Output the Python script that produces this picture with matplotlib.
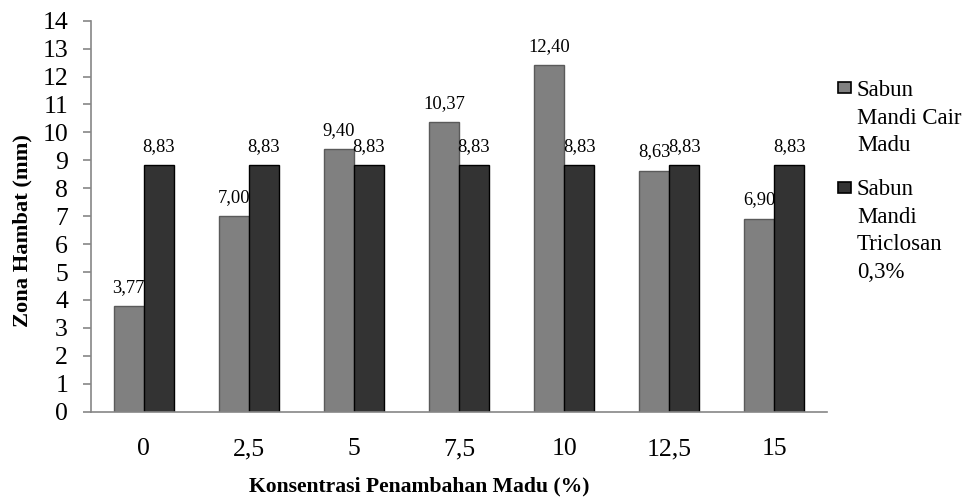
import numpy as np
import matplotlib
matplotlib.use('Agg')
import matplotlib.pyplot as plt
from matplotlib.patches import Rectangle

plt.rcParams['font.family'] = ['Liberation Serif', 'DejaVu Serif']

categories = ['0', '2,5', '5', '7,5', '10', '12,5', '15']
madu = [3.77, 7.00, 9.40, 10.37, 12.40, 8.63, 6.90]
triclosan = [8.83, 8.83, 8.83, 8.83, 8.83, 8.83, 8.83]
series_names = ['Sabun\nMandi Cair\nMadu', 'Sabun\nMandi\nTriclosan\n0,3%']
series_colors = ['#808080', '#333333']
edge_colors = ['#5a5a5a', '#000000']

W, H = 973, 499
fig = plt.figure(figsize=(W / 100, H / 100), dpi=100)
ax = fig.add_axes([91 / W, 1 - 411.7 / H, (827 - 91) / W, (411.7 - 20.7) / H])

x = np.arange(len(categories))
w = 0.285
b1 = ax.bar(x - w / 2, madu, w, color=series_colors[0], edgecolor=edge_colors[0], linewidth=1)
b2 = ax.bar(x + w / 2, triclosan, w, color=series_colors[1], edgecolor=edge_colors[1], linewidth=1)

fmt = lambda v: f'{v:.2f}'.replace('.', ',')
ax.bar_label(b1, labels=[fmt(v) for v in madu], padding=7.5, fontsize=13.3)
ax.bar_label(b2, labels=[fmt(v) for v in triclosan], padding=7.5, fontsize=13.3)

ax.set_xlim(-0.5, len(categories) - 0.5)
ax.set_ylim(0, 14)
ax.set_yticks(range(0, 15))
ax.set_xticks(x)
ax.set_xticklabels(categories)
for s in ['top', 'right']:
    ax.spines[s].set_visible(False)
for s in ['left', 'bottom']:
    ax.spines[s].set_color('#868686')
    ax.spines[s].set_linewidth(1.2)
ax.tick_params(axis='y', length=6, width=1.2, color='#868686', pad=10.5, labelsize=18.5)
ax.tick_params(axis='x', length=0, pad=19, labelsize=18.5)

fig.text(22 / W, 1 - 231 / H, 'Zona Hambat (mm)', rotation=90, ha='center', va='center',
         fontsize=16.2, fontweight='bold')
fig.text(419 / W, 1 - 486 / H, 'Konsentrasi Penambahan Madu (%)', ha='center', va='center',
         fontsize=15.6, fontweight='bold')

# legend drawn by hand so the marker sits on the first line of each label
top_y = [96, 195]
marker_top = [81.7, 181.7]
for i, name in enumerate(series_names):
    fig.add_artist(Rectangle((838 / W, 1 - (marker_top[i] + 11) / H), 13 / W, 11 / H,
                             transform=fig.transFigure, facecolor=series_colors[i],
                             edgecolor='black', linewidth=1.2))
    for j, line in enumerate(name.split('\n')):
        fig.text(857 / W, 1 - (top_y[i] + 27.7 * j) / H, line, ha='left', va='baseline',
                 fontsize=16.5)

fig.savefig('out.png', dpi=100)
